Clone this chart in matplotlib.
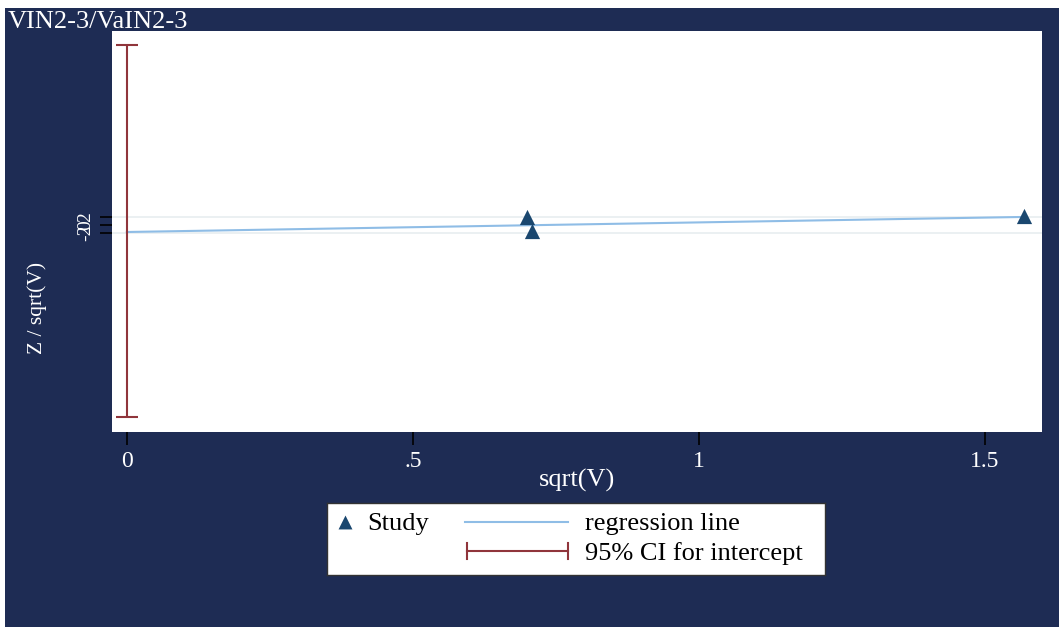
import matplotlib
matplotlib.use("Agg")
from matplotlib import pyplot as plt
from matplotlib.patches import Rectangle

# data
sqrt_v = [0.699, 0.708, 1.568]
z_over_sqrt_v = [2.0, -1.5, 2.25]
reg_intercept = -1.75
reg_slope = 2.4
ci_low, ci_high = -48.0, 45.0
x_ticks = [0, 0.5, 1, 1.5]
x_tick_labels = ["0", ".5", "1", "1.5"]
y_ticks = [-2, 0, 2]
y_tick_labels = ["-2", "0", "2"]

NAVY = "#1e2c54"
MARKER = "#1a476f"
REG = "#8fbde6"
CI = "#90353b"
GRID = "#e8eef0"

W, H = 1059, 627
plt.rcParams["font.family"] = ["Liberation Serif", "DejaVu Serif"]

fig = plt.figure(figsize=(W / 100, H / 100), dpi=100)
fig.patch.set_facecolor("white")
fig.patches.append(Rectangle((5 / W, 0), 1 - 5 / W, (H - 8) / H,
                             transform=fig.transFigure, facecolor=NAVY,
                             edgecolor="none", zorder=-10))


def box(x0, y0, x1, y1):
    return [x0 / W, 1 - y1 / H, (x1 - x0) / W, (y1 - y0) / H]


ax = fig.add_axes(box(112, 31, 1042, 432))
ax.set_facecolor("white")
ax.set_xlim(-0.026, 1.60)
ax.set_ylim(-51.75, 48.5)

for yv in [-2, 2]:
    ax.axhline(yv, color=GRID, lw=1.2, zorder=1)

mid = (ci_low + ci_high) / 2
ax.errorbar([0], [mid], yerr=[[mid - ci_low], [ci_high - mid]], fmt="none",
            ecolor=CI, elinewidth=1.5, capsize=8, capthick=1.5, zorder=3)

xmax = max(sqrt_v)
ax.plot([0, xmax], [reg_intercept, reg_intercept + reg_slope * xmax],
        color=REG, lw=1.5, zorder=2)
ax.scatter(sqrt_v, z_over_sqrt_v, marker="^", s=120, color=MARKER, zorder=4,
           linewidths=0)

for s in ax.spines.values():
    s.set_visible(False)

ax.set_xticks(x_ticks)
ax.set_xticklabels(x_tick_labels)
ax.set_yticks(y_ticks)
ax.set_yticklabels(y_tick_labels, rotation=90, va="center")
ax.tick_params(axis="both", colors="black", labelcolor="white",
               length=9, width=1.2)
ax.tick_params(axis="x", labelsize=17, pad=5)
ax.tick_params(axis="y", labelsize=14, pad=4)

ax.set_xlabel("sqrt(V)", color="white", fontsize=19, va="center")
ax.xaxis.set_label_coords(0.5, -0.12)
ax.set_ylabel("Z / sqrt(V)", color="white", fontsize=15.5, va="center")
ax.yaxis.set_label_coords(-0.08, 0.31)

fig.text(8 / W, 1 - 28 / H, "VIN2-3/VaIN2-3", color="white", fontsize=19,
         va="baseline", ha="left")

# legend drawn in pixel coordinates
lg = fig.add_axes(box(327, 503, 825, 575))
lg.set_xlim(327, 825)
lg.set_ylim(575, 503)
lg.set_xticks([])
lg.set_yticks([])
lg.set_facecolor("white")
for s in lg.spines.values():
    s.set_color("#333333")
    s.set_linewidth(1.0)
lg.scatter([345], [522], marker="^", s=100, color=MARKER, linewidths=0)
lg.text(367, 524, "Study", fontsize=19, va="center", color="black")
lg.plot([465, 568], [522, 522], color=REG, lw=1.5)
lg.text(585, 524, "regression line", fontsize=19, va="center", color="black")
lg.plot([467, 568], [551, 551], color=CI, lw=1.5)
lg.plot([467, 467], [543, 559], color=CI, lw=1.5)
lg.plot([568, 568], [543, 559], color=CI, lw=1.5)
lg.text(585, 554, "95% CI for intercept", fontsize=19, va="center", color="black")

fig.savefig("out.png", dpi=100)
